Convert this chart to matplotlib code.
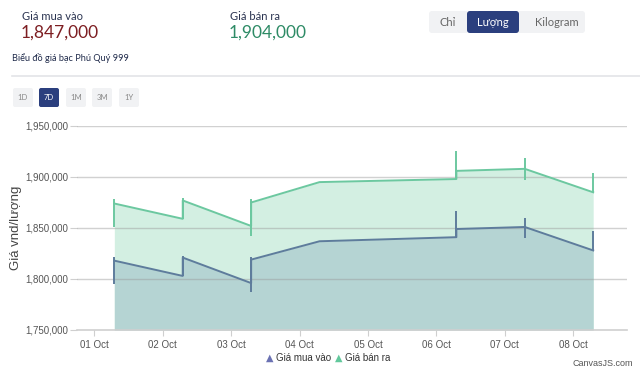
import matplotlib.pyplot as plt
from matplotlib.patches import FancyBboxPatch

# tick labels on the x axis (day 0 = 01 Oct)
day_labels = ["01 Oct", "02 Oct", "03 Oct", "04 Oct", "05 Oct", "06 Oct", "07 Oct", "08 Oct"]

# data points (day index, update at about 07:00)
point_day = [0, 1, 2, 3, 5, 6, 7]
point_hour = 7

# sell price (Giá bán ra)
sell_open = [1874000, 1859000, 1852000, 1895000, 1898000, 1908000, 1885000]
sell_close = [1874000, 1877000, 1875000, 1895000, 1906000, 1908000, 1885000]
sell_high = [1878000, 1879000, 1878000, 1895000, 1925000, 1919000, 1904000]
sell_low = [1851000, 1859000, 1842000, 1895000, 1898000, 1897000, 1885000]

# buy price (Giá mua vào)
buy_open = [1818000, 1803000, 1796000, 1837000, 1841000, 1851000, 1828000]
buy_close = [1818000, 1821000, 1819000, 1837000, 1849000, 1851000, 1828000]
buy_high = [1822000, 1823000, 1822000, 1837000, 1867000, 1860000, 1847000]
buy_low = [1795000, 1803000, 1787000, 1837000, 1841000, 1840000, 1828000]

y_ticks = [1750000, 1800000, 1850000, 1900000, 1950000]

W, H = 640, 373
fig = plt.figure(figsize=(W / 100, H / 100), dpi=100)
cf = "Liberation Sans"

# main chart area (pixel box 77..627 x 126..330)
ax = fig.add_axes([77 / W, (H - 330) / H, (627 - 77) / W, (330 - 126) / H])

xs = [d + point_hour / 24 for d in point_day]


def path(opens, closes):
    px, py = [], []
    for i, x in enumerate(xs):
        if i > 0:
            px.append(x)
            py.append(opens[i])
        px.append(x)
        py.append(closes[i])
    return px, py


ymin = 1750000
sx, sy = path(sell_open, sell_close)
bx, by = path(buy_open, buy_close)

ax.fill_between(sx, ymin, sy, color="#d3efe2", lw=0, zorder=1)
ax.fill_between(bx, ymin, by, color="#b5d4d3", lw=0, zorder=2)
ax.plot(sx, sy, color="#6cc8a0", lw=1.4, zorder=4)
ax.plot(bx, by, color="#5e7c9c", lw=1.4, zorder=4)
ax.vlines(xs, sell_low, sell_high, color="#6cc8a0", lw=1.4, zorder=4)
ax.vlines(xs, buy_low, buy_high, color="#5e7c9c", lw=1.4, zorder=4)

ax.set_xlim(-0.254, 7.786)
ax.set_ylim(1750000, 1950000)
ax.set_yticks(y_ticks)
ax.set_yticklabels([f"{v:,}" for v in y_ticks])
ax.set_xticks(range(len(day_labels)))
ax.set_xticklabels(day_labels)
for v in y_ticks[1:]:
    ax.axhline(v, color="#9a9a9a", lw=1, alpha=0.45, zorder=3)
for s in ["top", "right", "left"]:
    ax.spines[s].set_visible(False)
ax.spines["bottom"].set_color("#cfcfcf")
ax.spines["bottom"].set_linewidth(1.2)
ax.tick_params(axis="y", length=5, color="#cfcfcf", labelsize=7, labelcolor="#555555", pad=1)
ax.tick_params(axis="x", length=4, color="#cfcfcf", labelsize=7, labelcolor="#555555", pad=3)
for t in ax.get_xticklabels() + ax.get_yticklabels():
    t.set_family(cf)
ax.set_ylabel("Giá vnd/lượng", fontsize=9.5, color="#444444", family=cf)
ax.yaxis.set_label_coords((22 - 77) / 550, 0.5)

# overlay for page header, buttons, legend
ov = fig.add_axes([0, 0, 1, 1], zorder=-1)
ov.set_xlim(0, W)
ov.set_ylim(H, 0)
ov.axis("off")

hf = "Lato"
navy = "#2b3f7e"
ov.text(22, 16, "Giá mua vào", fontsize=8, color="#2a3350", family=hf, va="center")
ov.text(21, 33, "1,847,000", fontsize=12.5, color="#7d1e22", family=hf, va="center")
ov.text(230, 16, "Giá bán ra", fontsize=8, color="#2a3350", family=hf, va="center")
ov.text(229, 33, "1,904,000", fontsize=12.5, color="#2e8b66", family=hf, va="center")

ov.add_patch(FancyBboxPatch((429, 11), 156, 22, boxstyle="round,pad=0,rounding_size=3",
                            fc="#f1f2f4", ec="none"))
ov.add_patch(FancyBboxPatch((467, 11), 52, 22, boxstyle="round,pad=0,rounding_size=3",
                            fc=navy, ec="none"))
ov.text(448, 22, "Chỉ", fontsize=8, color="#666666", family=hf, ha="center", va="center")
ov.text(493, 22, "Lượng", fontsize=8, color="white", family=hf, ha="center", va="center")
ov.text(557, 22, "Kilogram", fontsize=8, color="#666666", family=hf, ha="center", va="center")

ov.text(12, 58, "Biểu đồ giá bạc Phú Quý 999", fontsize=6.6, color="#1f2a4a", family=hf, va="center")
ov.plot([12, 640], [76, 76], color="#e3e4e8", lw=1.2)

ranges = ["1D", "7D", "1M", "3M", "1Y"]
range_x = [13, 39, 66, 92, 119]
for lab, x0 in zip(ranges, range_x):
    sel = lab == "7D"
    ov.add_patch(FancyBboxPatch((x0, 88), 20, 19, boxstyle="round,pad=0,rounding_size=2",
                                fc=navy if sel else "#f1f2f4", ec="none"))
    ov.text(x0 + 10, 97.5, lab, fontsize=5.5, color="white" if sel else "#888888",
            family=hf, ha="center", va="center")

# legend
ov.text(270, 358, "▲", fontsize=7, color="#6b72b3", ha="center", va="center")
ov.text(276, 358, "Giá mua vào", fontsize=7, color="#333333", family=cf, va="center")
ov.text(339, 358, "▲", fontsize=7, color="#62c89c", ha="center", va="center")
ov.text(345, 358, "Giá bán ra", fontsize=7, color="#333333", family=cf, va="center")
ov.text(633, 364, "CanvasJS.com", fontsize=6.5, color="#555555", family=cf, ha="right", va="center")

fig.savefig("out.png", dpi=100)
